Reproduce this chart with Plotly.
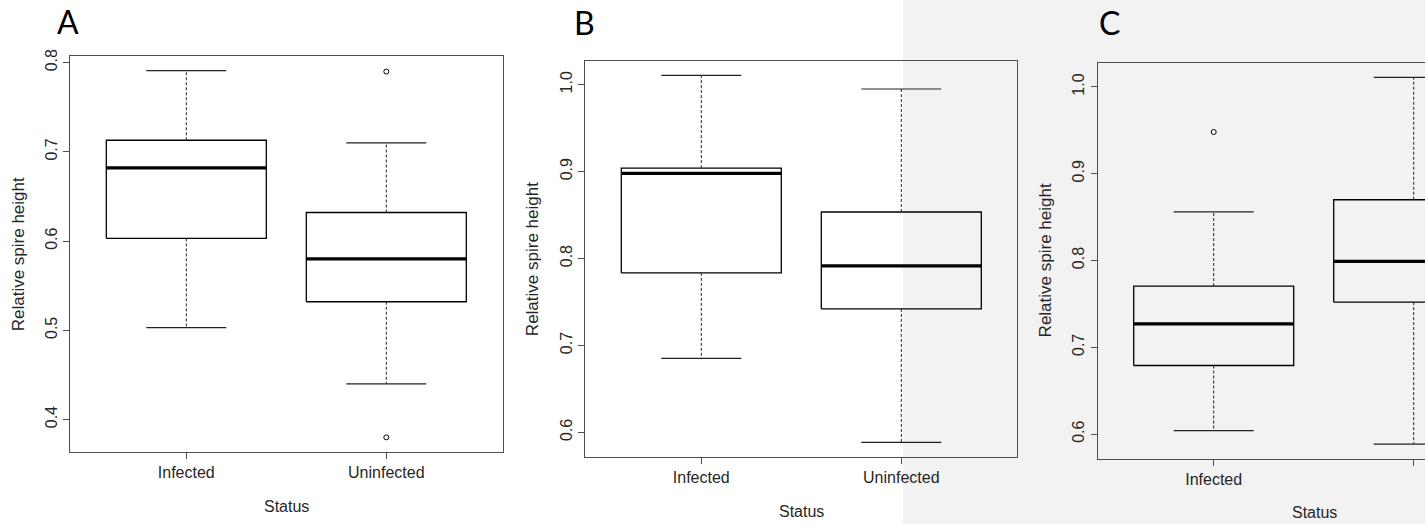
import plotly.graph_objects as go

# ---------------- data ----------------
categories = ["Infected", "Uninfected"]

a_lower = [0.503, 0.440]
a_q1 = [0.603, 0.532]
a_median = [0.682, 0.580]
a_q3 = [0.713, 0.632]
a_upper = [0.791, 0.710]
a_outliers = [[], [0.790, 0.380]]
a_ticks = [0.4, 0.5, 0.6, 0.7, 0.8]

b_lower = [0.685, 0.5885]
b_q1 = [0.7835, 0.742]
b_median = [0.898, 0.7915]
b_q3 = [0.904, 0.8535]
b_upper = [1.0107, 0.995]
b_outliers = [[], []]
b_ticks = [0.6, 0.7, 0.8, 0.9, 1.0]

c_lower = [0.604, 0.5885]
c_q1 = [0.679, 0.752]
c_median = [0.727, 0.799]
c_q3 = [0.7705, 0.870]
c_upper = [0.856, 1.011]
c_outliers = [[0.948], []]
c_ticks = [0.6, 0.7, 0.8, 0.9, 1.0]

panel_letters = ["A", "B", "C"]
y_title = "Relative spire height"
x_title = "Status"

# ---------------- layout geometry (pixels) ----------------
W, H = 1425, 524
frames = [  # left, right, top, bottom (right of C is cut by figure edge)
    (70.3, 503.0, 56.0, 452.0),
    (585.3, 1017.0, 60.7, 457.0),
    (1097.7, 1530.7, 62.7, 458.7),
]
PX_PER_UNIT = 200.0
X0 = 0.42
BOX_HALF = 0.4
CAP_HALF = 0.2
FONT = "Liberation Sans, Arial, sans-serif"
TXT = "#262626"
FRAME = "#4d4d4d"

panels = [
    (a_lower, a_q1, a_median, a_q3, a_upper, a_outliers, a_ticks),
    (b_lower, b_q1, b_median, b_q3, b_upper, b_outliers, b_ticks),
    (c_lower, c_q1, c_median, c_q3, c_upper, c_outliers, c_ticks),
]

fig = go.Figure()
annotations = []

for p, (lo, q1, med, q3, up, outl, ticks) in enumerate(panels):
    xa = "x" if p == 0 else f"x{p+1}"
    ya = "y" if p == 0 else f"y{p+1}"
    xpos = [i + 1 for i in range(len(categories))]

    # boxes
    bx, by = [], []
    for x, a, b in zip(xpos, q1, q3):
        bx += [x - BOX_HALF, x + BOX_HALF, x + BOX_HALF, x - BOX_HALF, x - BOX_HALF, None]
        by += [a, a, b, b, a, None]
    fig.add_trace(go.Scatter(x=bx, y=by, mode="lines", xaxis=xa, yaxis=ya,
                             line=dict(color="black", width=1.3), hoverinfo="skip"))
    # medians
    mx, my = [], []
    for x, m in zip(xpos, med):
        mx += [x - BOX_HALF, x + BOX_HALF, None]
        my += [m, m, None]
    fig.add_trace(go.Scatter(x=mx, y=my, mode="lines", xaxis=xa, yaxis=ya,
                             line=dict(color="black", width=3.2), hoverinfo="skip"))
    # whiskers (dashed)
    wx, wy = [], []
    for x, l, a, b, u in zip(xpos, lo, q1, q3, up):
        wx += [x, x, None, x, x, None]
        wy += [b, u, None, a, l, None]
    fig.add_trace(go.Scatter(x=wx, y=wy, mode="lines", xaxis=xa, yaxis=ya,
                             line=dict(color="#222222", width=1, dash="3px,2px"),
                             hoverinfo="skip"))
    # caps
    cx, cy = [], []
    for x, l, u in zip(xpos, lo, up):
        cx += [x - CAP_HALF, x + CAP_HALF, None, x - CAP_HALF, x + CAP_HALF, None]
        cy += [u, u, None, l, l, None]
    fig.add_trace(go.Scatter(x=cx, y=cy, mode="lines", xaxis=xa, yaxis=ya,
                             line=dict(color="#222222", width=1.2), hoverinfo="skip"))
    # outliers
    ox, oy = [], []
    for x, vals in zip(xpos, outl):
        for v in vals:
            ox.append(x)
            oy.append(v)
    if ox:
        fig.add_trace(go.Scatter(x=ox, y=oy, mode="markers", xaxis=xa, yaxis=ya,
                                 marker=dict(symbol="circle-open", size=5, color="black",
                                             line=dict(width=1)),
                                 hoverinfo="skip"))

    # axes
    left, right, top, bottom = frames[p]
    r_px = min(right, W)
    x_hi = X0 + (r_px - left) / PX_PER_UNIT
    allv = lo + up + [v for vals in outl for v in vals]
    dmin, dmax = min(allv), max(allv)
    pad = 0.04 * (dmax - dmin)
    xdom = [left / W, r_px / W]
    ydom = [1 - bottom / H, 1 - top / H]
    full = right <= W
    xkey = "xaxis" if p == 0 else f"xaxis{p+1}"
    ykey = "yaxis" if p == 0 else f"yaxis{p+1}"
    fig.layout[xkey] = dict(
        domain=xdom, range=[X0, x_hi], anchor=ya, automargin=False,
        tickmode="array", tickvals=xpos, ticktext=categories,
        showline=True, linecolor=FRAME, linewidth=1, mirror=True,
        ticks="outside", ticklen=6, tickcolor=FRAME,
        showgrid=False, zeroline=False,
        tickfont=dict(family=FONT, size=16, color=TXT),
    )
    fig.layout[ykey] = dict(
        domain=ydom, range=[dmin - pad, dmax + pad], anchor=xa, automargin=False,
        tickmode="array", tickvals=ticks, ticktext=[f"{t:.1f}" for t in ticks],
        tickangle=-90,
        showline=True, linecolor=FRAME, linewidth=1, mirror=full,
        ticks="outside", ticklen=6, tickcolor=FRAME,
        showgrid=False, zeroline=False,
        tickfont=dict(family=FONT, size=16, color=TXT),
    )

    # titles
    annotations.append(dict(
        text=y_title, xref="paper", yref="paper",
        x=(left - 52) / W, y=1 - (top + bottom) / 2 / H,
        xanchor="center", yanchor="middle", textangle=-90, showarrow=False,
        font=dict(family=FONT, size=17, color=TXT)))
    annotations.append(dict(
        text=x_title, xref="paper", yref="paper",
        x=(left + right) / 2 / W, y=1 - (bottom + 54) / H,
        xanchor="center", yanchor="middle", showarrow=False,
        font=dict(family=FONT, size=16, color=TXT)))

letter_pos = [(55.0, 21.5), (571.5, 23.0), (1096.5, 22.5)]
for letter, (lx, ly) in zip(panel_letters, letter_pos):
    annotations.append(dict(
        text=letter, xref="paper", yref="paper",
        x=lx / W, y=1 - ly / H, xanchor="left", yanchor="middle",
        showarrow=False, font=dict(family="Lato, Open Sans, sans-serif", size=32, color="black")))

fig.update_layout(
    width=W, height=H, autosize=False,
    margin=dict(l=0, r=0, t=0, b=0, pad=0, autoexpand=False),
    paper_bgcolor="white",
    plot_bgcolor="rgba(0,0,0,0)",
    showlegend=False,
    annotations=annotations,
    shapes=[dict(type="rect", xref="paper", yref="paper",
                 x0=903 / W, x1=1, y0=0, y1=1,
                 fillcolor="#f2f2f2", line=dict(width=0), layer="below")],
)

fig.write_html(
    "out.html",
    config={"displayModeBar": False},
    post_script=(
        "document.documentElement.style.margin='0';"
        "document.body.style.margin='0';document.body.style.padding='0';"
        "document.body.style.overflow='hidden';"
    ),
)
